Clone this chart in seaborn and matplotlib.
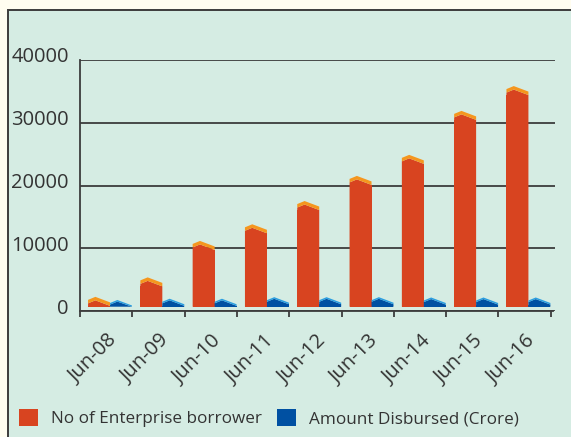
import matplotlib
matplotlib.use("Agg")
import matplotlib.pyplot as plt
import matplotlib.transforms as mtransforms
from matplotlib.patches import Rectangle, Polygon
from matplotlib.ticker import FixedLocator
import seaborn as sns
import pandas as pd

# ---- data ----
periods = ["Jun-08", "Jun-09", "Jun-10", "Jun-11", "Jun-12",
           "Jun-13", "Jun-14", "Jun-15", "Jun-16"]
borrowers = [2300, 5400, 11200, 13850, 17550, 21550, 24900, 31900, 35850]
disbursed = [1800, 2000, 2000, 2250, 2250, 2250, 2200, 2200, 2200]
series_names = ["No of Enterprise borrower", "Amount Disbursed (Crore)"]
yticks = [0, 10000, 20000, 30000, 40000]

# ---- style ----
RED, ORANGE = "#d84420", "#f5961e"
BLUE, LBLUE = "#0050a2", "#2a9ee0"
PANEL, OUTER, DARK, TEXT = "#d5ece3", "#fffdf0", "#3c3c3c", "#333333"

sns.set_theme(style="white")
plt.rcParams["font.family"] = ["Open Sans", "DejaVu Sans"]

W, H = 571, 437
fig = plt.figure(figsize=(W / 100, H / 100), dpi=100)
fig.patch.set_facecolor(OUTER)
fig.patches.append(Rectangle((8 / W, -0.1), 1.2, 1 - 10 / H + 0.1,
                             transform=fig.transFigure, facecolor=PANEL,
                             edgecolor=DARK, lw=1.4, zorder=-5))

ax_left, ax_right, ax_top, ax_bot = 80, 555, 60, 311.3
ax = fig.add_axes([ax_left / W, 1 - ax_bot / H, (ax_right - ax_left) / W,
                   (ax_bot - ax_top) / H])
ax.set_facecolor("none")

df = pd.DataFrame({
    "period": periods * 2,
    "value": borrowers + disbursed,
    "series": [series_names[0]] * len(periods) + [series_names[1]] * len(periods),
})
sns.barplot(data=df, x="period", y="value", hue="series",
            palette=[RED, BLUE], width=0.84, saturation=1, errorbar=None,
            legend=False, ax=ax, zorder=3, linewidth=0)

ax.set_ylim(0, 40000)
cat_px = (550.7 - 80) / 9
ax.set_xlim(-0.5, -0.5 + (ax_right - ax_left) / cat_px)

# ---- 3D-like roofs, derived from the seaborn bars ----
p = 10000 / 62.8          # data units per pixel
floor = 4.6 * p
shift = 0.074
specs = [(RED, ORANGE, 3.0, 5.5, 3.5), (BLUE, LBLUE, 3.0, 5.5, 1.6)]
for cont, (body_c, band_c, ld, rd, t) in zip(ax.containers, specs):
    for patch in cont:
        x0 = patch.get_x() + shift
        w = patch.get_width()
        h = patch.get_height()
        xm = x0 + w / 3
        lo = lambda v: max(v, floor)
        rect_top = lo(h - (rd + t) * p)
        patch.set_x(x0)
        patch.set_y(floor)
        patch.set_height(rect_top - floor)
        body = Polygon([(x0, floor), (x0, lo(h - (ld + t) * p)),
                        (xm, lo(h - t * p)), (x0 + w, lo(h - (rd + t) * p)),
                        (x0 + w, floor)], closed=True,
                       facecolor=body_c, edgecolor="none", zorder=3)
        band = Polygon([(x0, lo(h - ld * p)), (xm, h), (x0 + w, lo(h - rd * p)),
                        (x0 + w, lo(h - (rd + t) * p)), (xm, lo(h - t * p)),
                        (x0, lo(h - (ld + t) * p))], closed=True,
                       facecolor=band_c, edgecolor="none", zorder=3.1)
        ax.add_patch(body)
        ax.add_patch(band)

# ---- axes styling ----
ax.set_yticks(yticks)
ax.set_yticklabels([str(v) for v in yticks])
ax.yaxis.grid(True, color=DARK, lw=1.3)
ax.xaxis.grid(False)
ax.set_axisbelow(True)
for s in ["top", "right"]:
    ax.spines[s].set_visible(False)
for s in ["left", "bottom"]:
    ax.spines[s].set_color(DARK)
    ax.spines[s].set_linewidth(1.3)
ax.spines["bottom"].set_bounds(-0.5, 8.55)

ax.tick_params(axis="y", length=0, pad=8, labelsize=14.5, labelcolor=TEXT)
ax.tick_params(axis="x", which="major", length=0, pad=14, labelsize=14.5,
               labelcolor=TEXT)
ax.xaxis.set_minor_locator(FixedLocator([i - 0.5 for i in range(len(periods) + 1)]))
ax.tick_params(axis="x", which="minor", length=4, width=1.3, color=DARK,
               direction="out", bottom=True)
ax.set_xlabel("")
ax.set_ylabel("")

xoff = mtransforms.ScaledTranslation(15 / 100, 0, fig.dpi_scale_trans)
for lab in ax.get_xticklabels():
    lab.set_rotation(45)
    lab.set_ha("right")
    lab.set_va("top")
    lab.set_transform(lab.get_transform() + xoff)

yoff = mtransforms.ScaledTranslation(0, 5 / 100, fig.dpi_scale_trans)
for lab in ax.get_yticklabels():
    lab.set_transform(lab.get_transform() + yoff)

# ---- legend ----
handles = [Rectangle((0, 0), 1, 1, facecolor=c, edgecolor="none") for c in (RED, BLUE)]
fig.legend(handles, series_names, loc="center left",
           bbox_to_anchor=(19 / W, 1 - 418 / H), ncol=2, frameon=False,
           fontsize=12.3, labelcolor=TEXT, handlelength=1.1, handleheight=1.15,
           handletextpad=0.75, columnspacing=0.9, borderaxespad=0, borderpad=0)

fig.savefig("out.png", dpi=100, facecolor=fig.get_facecolor())
